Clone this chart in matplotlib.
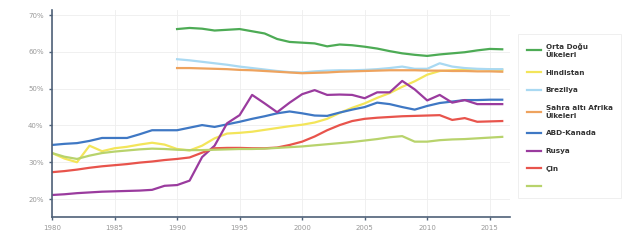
import numpy as np
import matplotlib.pyplot as plt

# years
years_all = list(range(1980, 2017))
years_90 = list(range(1990, 2017))

# top 10% income share (%)
orta_dogu = [66.2, 66.5, 66.3, 65.8, 66.0, 66.2, 65.6, 65.0, 63.5, 62.7,
             62.5, 62.3, 61.5, 62.0, 61.8, 61.4, 60.9, 60.2, 59.6, 59.2,
             58.9, 59.3, 59.6, 59.9, 60.4, 60.8, 60.7]
hindistan = [32.5, 31.0, 30.0, 34.5, 33.0, 33.8, 34.2, 34.8, 35.3, 34.8,
             33.6, 33.2, 34.5, 36.5, 37.8, 38.0, 38.3, 38.8, 39.3, 39.8,
             40.2, 40.8, 41.8, 43.4, 44.8, 46.0, 47.5, 48.8, 50.5, 52.0,
             53.8, 54.8, 55.0, 55.2, 55.3, 55.2, 55.1]
brezilya = [58.0, 57.7, 57.3, 56.9, 56.5, 56.0, 55.6, 55.2, 54.8, 54.5,
            54.4, 54.7, 54.9, 55.0, 55.0, 55.1, 55.3, 55.6, 56.0, 55.4,
            55.4, 56.9, 56.0, 55.6, 55.4, 55.3, 55.3]
sahra = [55.6, 55.6, 55.5, 55.4, 55.3, 55.1, 55.0, 54.8, 54.6, 54.4,
         54.2, 54.3, 54.4, 54.6, 54.7, 54.8, 54.9, 55.0, 55.0, 55.0,
         54.9, 54.9, 54.8, 54.8, 54.7, 54.7, 54.6]
abd_kanada = [34.7, 35.0, 35.2, 35.8, 36.6, 36.6, 36.6, 37.6, 38.7, 38.7,
              38.7, 39.4, 40.1, 39.6, 40.3, 41.0, 41.8, 42.5, 43.3, 43.8,
              43.3, 42.7, 42.6, 43.5, 44.3, 45.0, 46.2, 45.8, 45.0, 44.3,
              45.3, 46.1, 46.5, 46.9, 46.9, 47.0, 47.0]
rusya = [21.1, 21.3, 21.6, 21.8, 22.0, 22.1, 22.2, 22.3, 22.5, 23.6,
         23.8, 25.0, 31.4, 34.5, 40.6, 42.8, 48.3, 46.0, 43.6, 46.2,
         48.5, 49.6, 48.3, 48.4, 48.3, 47.4, 49.0, 49.0, 52.1, 49.8,
         46.8, 48.3, 46.2, 46.9, 45.8, 45.8, 45.8]
cin = [27.3, 27.6, 28.0, 28.5, 28.9, 29.2, 29.5, 29.9, 30.2, 30.6,
       30.9, 31.3, 32.6, 33.8, 33.9, 33.9, 33.8, 33.8, 34.0, 34.7,
       35.6, 37.0, 38.7, 40.1, 41.2, 41.8, 42.1, 42.3, 42.5, 42.6,
       42.7, 42.8, 41.5, 42.0, 41.0, 41.1, 41.2]
avrupa = [32.5, 31.5, 30.9, 31.8, 32.5, 32.9, 33.2, 33.5, 33.7, 33.6,
          33.4, 33.3, 33.3, 33.4, 33.5, 33.6, 33.6, 33.7, 33.9, 34.1,
          34.3, 34.6, 34.9, 35.2, 35.5, 35.9, 36.3, 36.8, 37.1, 35.6,
          35.6, 36.0, 36.2, 36.3, 36.5, 36.7, 36.9]

y_ticks = [20, 30, 40, 50, 60, 70]
x_ticks = [1980, 1985, 1990, 1995, 2000, 2005, 2010, 2015]

fig = plt.figure(figsize=(6.42, 2.42), dpi=100)
ax = fig.add_axes([0.081, 0.103, 0.713, 0.856])

series = [
    (years_90, orta_dogu, '#4dab55', 'Orta Doğu\nÜlkeleri'),
    (years_all, hindistan, '#f3e55a', 'Hindistan'),
    (years_90, brezilya, '#a9d9f2', 'Brezilya'),
    (years_90, sahra, '#eea35e', 'Sahra altı Afrika\nÜlkeleri'),
    (years_all, abd_kanada, '#3f78c4', 'ABD-Kanada'),
    (years_all, rusya, '#9a3b9e', 'Rusya'),
    (years_all, cin, '#e8544c', 'Çin'),
    (years_all, avrupa, '#b8d36c', ' '),
]
for xs, ys, c, lab in series:
    ax.plot(xs, ys, color=c, lw=1.6, label=lab)

ax.set_xlim(1980, 2016.6)
ax.set_ylim(15.1, 71.4)
ax.set_xticks(x_ticks)
ax.set_yticks(y_ticks)
ax.set_yticklabels([f'{v}%' for v in y_ticks])
ax.grid(True, color='#eeeeee', lw=0.6)
for s in ['top', 'right']:
    ax.spines[s].set_visible(False)
for s in ['left', 'bottom']:
    ax.spines[s].set_color('#4f6178')
    ax.spines[s].set_linewidth(1.2)
ax.tick_params(colors='#4f6178', labelcolor='#999999', labelsize=5,
               length=2.5, width=1)

leg = fig.legend(loc='upper left', bbox_to_anchor=(0.805, 0.865),
                 prop={'size': 5.2, 'weight': 'semibold'}, frameon=True,
                 handlelength=2.0, handletextpad=0.6, labelspacing=1.6,
                 borderpad=0.9)
leg.get_frame().set_edgecolor('#e8e8e8')
leg.get_frame().set_linewidth(0.6)
leg.get_frame().set_boxstyle('square')
for t in leg.get_texts():
    t.set_color('#333333')

fig.savefig('out.png', dpi=100)
